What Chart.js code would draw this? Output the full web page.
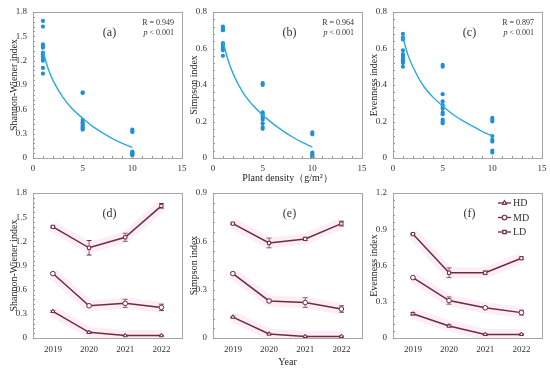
<!DOCTYPE html>
<html>
<head>
<meta charset="utf-8">
<script src="https://cdn.jsdelivr.net/npm/chart.js@4.4.1/dist/chart.umd.min.js"></script>
<style>
  body { margin: 0; background: #fff; }
  #wrap { position: relative; width: 550px; height: 368px; overflow: hidden; }
  .panel { position: absolute; }
</style>
</head>
<body>
<div id="wrap">
  <div class="panel" style="left:0;top:0"><canvas id="pa" width="190" height="185"></canvas></div>
  <div class="panel" style="left:180px;top:0"><canvas id="pb" width="190" height="185"></canvas></div>
  <div class="panel" style="left:360px;top:0"><canvas id="pc" width="190" height="185"></canvas></div>
  <div class="panel" style="left:0;top:185px"><canvas id="pd" width="190" height="183"></canvas></div>
  <div class="panel" style="left:180px;top:185px"><canvas id="pe" width="190" height="183"></canvas></div>
  <div class="panel" style="left:360px;top:185px"><canvas id="pf" width="190" height="183"></canvas></div>
</div>
<script>
// top row: index values per plant density (1, 5, 10 g/m2)
const densities = [1, 5, 10];
const shannonD1 = [1.69, 1.62, 1.40, 1.38, 1.36, 1.30, 1.28, 1.25, 1.22, 1.20, 1.11, 1.04];
const shannonD5 = [0.81, 0.80, 0.47, 0.44, 0.42, 0.40, 0.38, 0.36, 0.35];
const shannonD10 = [0.35, 0.33, 0.32, 0.08, 0.07, 0.06, 0.05, 0.04, 0.03];
const simpsonD1 = [0.72, 0.71, 0.70, 0.70, 0.63, 0.62, 0.61, 0.60, 0.59, 0.56];
const simpsonD5 = [0.41, 0.40, 0.25, 0.24, 0.23, 0.22, 0.21, 0.19, 0.17, 0.16];
const simpsonD10 = [0.14, 0.13, 0.03, 0.02, 0.01, 0.005];
const evenD1 = [0.68, 0.66, 0.65, 0.59, 0.57, 0.56, 0.55, 0.54, 0.53, 0.52, 0.50];
const evenD5 = [0.51, 0.50, 0.35, 0.31, 0.29, 0.28, 0.27, 0.25, 0.24, 0.21, 0.20, 0.19];
const evenD10 = [0.22, 0.21, 0.20, 0.12, 0.10, 0.09, 0.04, 0.03];

// fitted curves
const fitX = [1, 1.5, 2, 3, 4, 5, 6, 7, 8, 9, 10];
const shannonFit = [1.32, 1.11, 0.96, 0.75, 0.60, 0.49, 0.39, 0.31, 0.24, 0.18, 0.13];
const simpsonFit = [0.64, 0.54, 0.465, 0.36, 0.29, 0.235, 0.19, 0.15, 0.115, 0.085, 0.06];
const evenFit = [0.66, 0.565, 0.50, 0.40, 0.335, 0.285, 0.24, 0.205, 0.175, 0.145, 0.12];

// bottom row: yearly means and error bars
const years = [2019, 2020, 2021, 2022];
const groups = ['HD', 'MD', 'LD'];
const shHD = [0.33, 0.07, 0.03, 0.03],  shHDErr = [0.01, 0.01, 0.005, 0.005];
const shMD = [0.80, 0.40, 0.43, 0.38],  shMDErr = [0.01, 0.01, 0.05, 0.04];
const shLD = [1.38, 1.12, 1.25, 1.64],  shLDErr = [0.01, 0.09, 0.05, 0.03];
const siHD = [0.13, 0.025, 0.01, 0.01], siHDErr = [0.005, 0.005, 0.003, 0.003];
const siMD = [0.40, 0.23, 0.22, 0.18],  siMDErr = [0.005, 0.01, 0.03, 0.02];
const siLD = [0.71, 0.59, 0.615, 0.71], siLDErr = [0.005, 0.03, 0.01, 0.015];
const evHD = [0.20, 0.10, 0.03, 0.03],  evHDErr = [0.01, 0.01, 0.005, 0.005];
const evMD = [0.50, 0.31, 0.25, 0.21],  evMDErr = [0.005, 0.03, 0.01, 0.02];
const evLD = [0.86, 0.54, 0.54, 0.66],  evLDErr = [0.005, 0.04, 0.015, 0.01];

const SERIF = '"Liberation Serif", "DejaVu Serif", serif';
const dotBlue = '#1f8fd8';
const fitBlue = '#2ba9e1';
const maroon = '#6e2b3d';
const glow = 'rgba(246, 200, 226, 0.32)';
const markers = { HD: 'triangle', MD: 'circle', LD: 'rect' };

// frame, minor ticks, panel letter, stats, error bars, legend
const decoPlugin = {
  id: 'deco',
  beforeDatasetsDraw(chart, args, opts) {
    const ctx = chart.ctx;
    const x = chart.scales.x, y = chart.scales.y;
    if (opts.errors) {
      ctx.save();
      ctx.strokeStyle = maroon;
      ctx.lineWidth = 1;
      opts.errors.forEach(([vals, errs]) => {
        vals.forEach((v, i) => {
          const px = x.getPixelForValue(years[i]);
          const top = y.getPixelForValue(v + errs[i]);
          const bot = y.getPixelForValue(v - errs[i]);
          ctx.beginPath();
          ctx.moveTo(px, top); ctx.lineTo(px, bot);
          ctx.moveTo(px - 2.5, top); ctx.lineTo(px + 2.5, top);
          ctx.moveTo(px - 2.5, bot); ctx.lineTo(px + 2.5, bot);
          ctx.stroke();
        });
      });
      ctx.restore();
    }
  },
  afterDraw(chart, args, opts) {
    const ctx = chart.ctx;
    const a = chart.chartArea;
    const x = chart.scales.x, y = chart.scales.y;
    ctx.save();
    ctx.strokeStyle = '#a6a6a6';
    ctx.lineWidth = 1;
    ctx.strokeRect(Math.round(a.left) + 0.5, Math.round(a.top) + 0.5,
      Math.round(a.right - a.left), Math.round(a.bottom - a.top));

    // small inward ticks
    ctx.strokeStyle = '#9a9a9a';
    ctx.beginPath();
    if (opts.yMinor) {
      for (let v = y.min; v <= y.max + 1e-9; v += opts.yMinor) {
        const py = Math.round(y.getPixelForValue(v)) + 0.5;
        ctx.moveTo(a.left, py); ctx.lineTo(a.left + 2, py);
      }
    }
    if (opts.xMinor) {
      for (let v = x.min; v <= x.max + 1e-9; v += opts.xMinor) {
        const px = Math.round(x.getPixelForValue(v)) + 0.5;
        ctx.moveTo(px, a.bottom); ctx.lineTo(px, a.bottom - 2);
      }
    }
    ctx.stroke();

    ctx.fillStyle = '#333';
    ctx.textAlign = 'center';
    ctx.textBaseline = 'middle';
    ctx.font = '12px ' + SERIF;
    ctx.fillText(opts.letter, (a.left + a.right) / 2 + 2, a.top + 21);

    if (opts.stats) {
      ctx.font = '8px ' + SERIF;
      ctx.textAlign = 'left';
      const right = a.right - 8;
      const w1 = ctx.measureText(opts.stats[0]).width;
      ctx.fillText(opts.stats[0], right - w1, a.top + 11);
      const rest = ' < ' + opts.stats[1];
      const wr = ctx.measureText(rest).width;
      ctx.font = 'italic 8px ' + SERIF;
      const wp = ctx.measureText('p').width;
      ctx.fillText('p', right - wr - wp, a.top + 21);
      ctx.font = '8px ' + SERIF;
      ctx.fillText(rest, right - wr, a.top + 21);
    }

    if (opts.legend) {
      ctx.font = '10px ' + SERIF;
      ctx.textAlign = 'left';
      groups.forEach((g, i) => {
        const ly = a.top + 10 + i * 14.5;
        const lx = a.right - 44;
        ctx.strokeStyle = maroon;
        ctx.lineWidth = 1.3;
        ctx.beginPath();
        ctx.moveTo(lx, ly); ctx.lineTo(lx + 13, ly);
        ctx.stroke();
        Chart.helpers.drawPoint(ctx, { pointStyle: markers[g], radius: 2.2, borderWidth: 1, rotation: 0 }, lx + 6.5, ly);
        ctx.fillStyle = '#fff';
        ctx.strokeStyle = maroon;
        ctx.lineWidth = 1;
        ctx.fill();
        ctx.stroke();
        ctx.fillStyle = '#333';
        ctx.fillText(g, lx + 15, ly + 0.5);
      });
    }
    ctx.restore();
  }
};

function scatterSet(xv, vals) {
  return {
    type: 'scatter',
    data: vals.map(v => ({ x: xv, y: v })),
    backgroundColor: dotBlue,
    borderColor: dotBlue,
    pointRadius: 2.1,
    borderWidth: 0,
    order: 1
  };
}

function yAxis(title, max, step, titlePad) {
  return {
    type: 'linear', min: 0, max: max,
    grid: { display: false, drawTicks: false },
    border: { display: false },
    ticks: { stepSize: step, padding: 6, color: '#333', font: { family: SERIF, size: 9 } },
    title: { display: true, text: title, color: '#222', font: { family: SERIF, size: 10 }, padding: { top: titlePad, bottom: 0 } },
    afterFit(scale) {
      scale.width = 33;
      scale.paddingTop = 0;
      scale.paddingBottom = 0;
    }
  };
}

function topPanel(id, title, max, step, sets, fit, stats, letter, showX) {
  new Chart(document.getElementById(id), {
    type: 'scatter',
    data: {
      datasets: [
        scatterSet(densities[0], sets[0]),
        scatterSet(densities[1], sets[1]),
        scatterSet(densities[2], sets[2]),
        {
          type: 'line',
          data: fitX.map((xv, i) => ({ x: xv, y: fit[i] })),
          borderColor: fitBlue,
          borderWidth: 1.4,
          pointRadius: 0,
          cubicInterpolationMode: 'monotone',
          fill: false,
          order: 0
        }
      ]
    },
    options: {
      responsive: false,
      animation: false,
      layout: { padding: { left: 0, top: 12, right: 8, bottom: 0 } },
      plugins: {
        legend: { display: false },
        tooltip: { enabled: false },
        deco: { letter: letter, stats: stats, xMinor: 1, yMinor: step / 5 }
      },
      scales: {
        x: {
          type: 'linear', min: 0, max: 15,
          grid: { display: false, drawTicks: false },
          border: { display: false },
          ticks: { stepSize: 5, padding: 5, color: '#333', font: { family: SERIF, size: 9 } },
          title: { display: showX, text: 'Plant density（g/m²）', color: '#222', font: { family: SERIF, size: 10 }, padding: { top: 0, bottom: 1 } },
          afterFit(scale) {
            scale.height = 27;
            scale.paddingLeft = 0;
            scale.paddingRight = 0;
          }
        },
        y: yAxis(title, max, step, 8)
      }
    },
    plugins: [decoPlugin]
  });
}

function lineSet(g, vals) {
  return [
    {
      data: vals.map((v, i) => ({ x: years[i], y: v })),
      borderColor: maroon,
      borderWidth: 1.5,
      pointStyle: markers[g],
      pointRadius: 2.3,
      pointBorderWidth: 1,
      pointBackgroundColor: '#fff',
      pointBorderColor: maroon,
      order: 0
    },
    {
      data: vals.map((v, i) => ({ x: years[i], y: v })),
      borderColor: glow,
      borderWidth: 11,
      borderCapStyle: 'butt',
      pointRadius: 0,
      order: 5
    }
  ];
}

function bottomPanel(id, title, max, letter, series, showX, legend) {
  const datasets = [];
  groups.forEach((g, k) => { datasets.push(...lineSet(g, series[k][0])); });
  new Chart(document.getElementById(id), {
    type: 'line',
    data: { datasets: datasets },
    options: {
      responsive: false,
      animation: false,
      layout: { padding: { left: 0, top: 8, right: 8, bottom: 0 } },
      plugins: {
        legend: { display: false },
        tooltip: { enabled: false },
        deco: { letter: letter, errors: series, yMinor: 0.06, legend: legend }
      },
      scales: {
        x: {
          type: 'linear', min: 2018.45, max: 2022.57,
          afterBuildTicks(scale) { scale.ticks = years.map(v => ({ value: v })); },
          grid: { display: false, drawTicks: false },
          border: { display: false },
          ticks: { padding: 6, color: '#333', font: { family: SERIF, size: 9 }, callback: v => String(v) },
          title: { display: showX, text: 'Year', color: '#222', font: { family: SERIF, size: 10 }, padding: { top: 0, bottom: 0 } },
          afterFit(scale) {
            scale.height = 30;
            scale.paddingLeft = 0;
            scale.paddingRight = 0;
          }
        },
        y: yAxis(title, max, 0.3, 8)
      }
    },
    plugins: [decoPlugin]
  });
}

topPanel('pa', 'Shannon-Wiener index', 1.8, 0.3, [shannonD1, shannonD5, shannonD10], shannonFit, ['R = 0.949', '0.001'], '(a)', false);
topPanel('pb', 'Simpson index', 0.8, 0.2, [simpsonD1, simpsonD5, simpsonD10], simpsonFit, ['R = 0.964', '0.001'], '(b)', true);
topPanel('pc', 'Evenness index', 0.8, 0.2, [evenD1, evenD5, evenD10], evenFit, ['R = 0.897', '0.001'], '(c)', false);

bottomPanel('pd', 'Shannon-Wiener index', 1.8, '(d)', [[shHD, shHDErr], [shMD, shMDErr], [shLD, shLDErr]], false, false);
bottomPanel('pe', 'Simpson index', 0.9, '(e)', [[siHD, siHDErr], [siMD, siMDErr], [siLD, siLDErr]], true, false);
bottomPanel('pf', 'Evenness index', 1.2, '(f)', [[evHD, evHDErr], [evMD, evMDErr], [evLD, evLDErr]], false, true);
</script>
</body>
</html>
